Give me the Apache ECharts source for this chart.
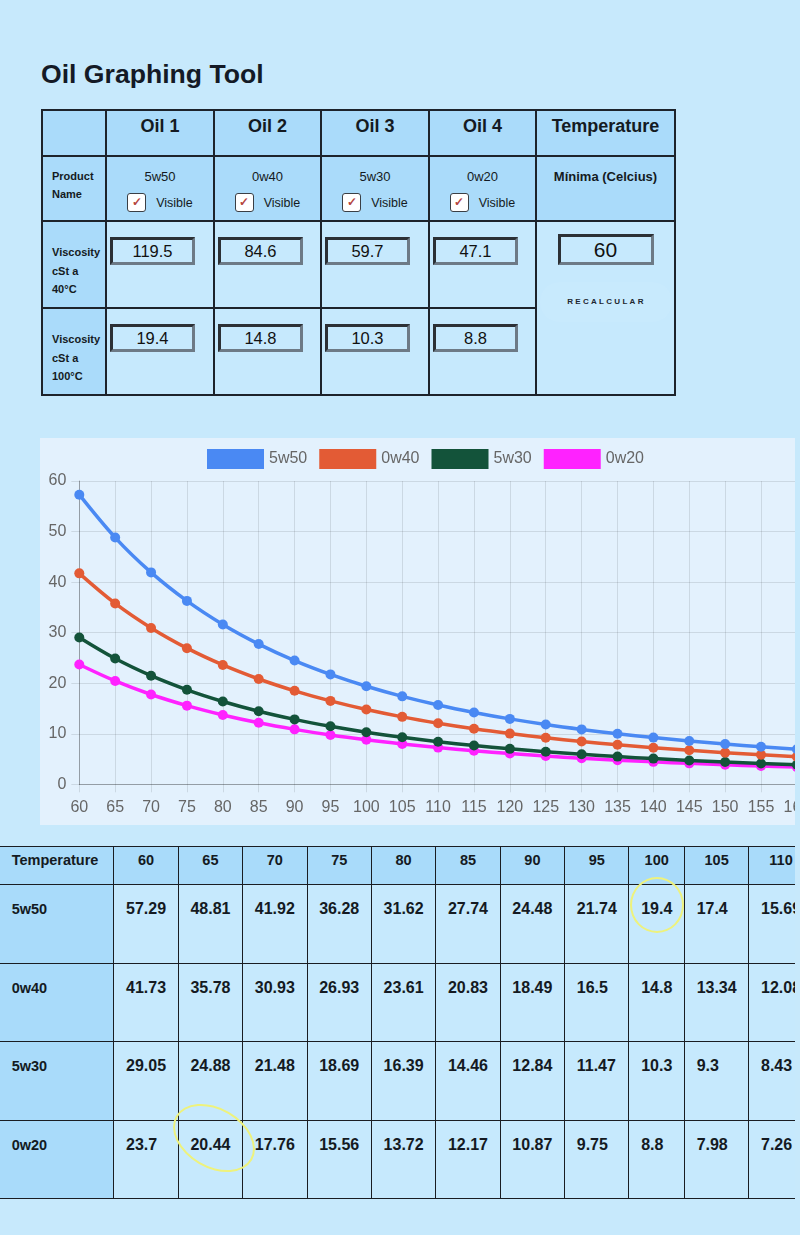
<!DOCTYPE html>
<html><head><meta charset="utf-8">
<script src="https://cdn.jsdelivr.net/npm/echarts@6/dist/echarts.min.js"></script>
<style>
html,body{margin:0;padding:0;background:#c7e9fc;}
body{width:800px;height:1235px;position:relative;overflow:hidden;font-family:"Liberation Sans",Arial,Helvetica,sans-serif;color:#141a22;}
#page{position:absolute;left:0;top:0;width:795px;height:1235px;overflow:hidden;}
h1{position:absolute;left:41px;top:59px;margin:0;font-size:26.6px;line-height:30px;font-weight:bold;color:#141a26;white-space:nowrap;}
#ctl{position:absolute;left:41px;top:109px;border-collapse:collapse;table-layout:fixed;width:633px;}
#ctl th,#ctl td{border:2px solid #1d232b;padding:0;vertical-align:top;text-align:center;background:#c6e9fd;}
#ctl tr.hd th{background:#aadbfa;font-size:18px;line-height:21px;padding-top:5px;font-weight:bold;}
#ctl tr.pn th,#ctl tr.pn td{background:#aadbfa;}
#ctl th.lab{background:#aadbfa;font-size:11px;line-height:18.7px;text-align:left;padding-left:9px;font-weight:bold;}
#ctl tr.pn th.lab{padding-top:9.5px;}
#ctl tr.v th.lab{padding-top:21px;}
#ctl tr.pn td{font-size:13px;line-height:15px;padding-top:11.5px;}
#ctl tr.pn td.mn{font-weight:bold;}
.vis{margin-top:9px;height:20px;line-height:20px;font-size:12.5px;display:flex;justify-content:center;align-items:center;}
.cb{display:inline-block;width:17px;height:17px;border:1px solid #3a3f45;border-radius:3px;background:#fff;color:#b5443c;font-size:12px;font-weight:bold;line-height:17px;text-align:center;margin-right:10px;box-sizing:content-box;}
.inp{margin:15px 0 0 3px;width:79px;height:22px;border:3px solid;border-color:#2c3035 #6d7a86 #6d7a86 #2c3035;font-size:16.5px;line-height:22px;text-align:center;color:#111;background:#c6e9fd;}
.inp.big{margin:12px auto 0 auto;width:90px;height:25px;font-size:21px;line-height:25px;}
.btn{margin:17px auto 0 auto;width:132px;height:40px;border-radius:20px;background:rgba(255,255,255,0.05);font-size:8px;font-weight:bold;letter-spacing:2.3px;line-height:40px;color:#1d2630;text-indent:2px;}
#chartwrap{position:absolute;left:40px;top:438px;width:755px;height:387px;overflow:hidden;background:#e3f1fd;}
#chart{position:absolute;left:0;top:0;width:774px;height:387px;}
#dt{position:absolute;left:-1px;top:846px;border-collapse:collapse;white-space:nowrap;}
#dt th,#dt td{border:1px solid #1a1d22;padding:0 11.68px;vertical-align:top;font-weight:bold;}
#dt thead th{height:32px;font-size:14.5px;line-height:17px;background:#a9dbfa;text-align:center;padding-top:5px;}
#dt thead th:first-child{text-align:left;min-width:90px;}
#dt tbody th{background:#a9dbfa;text-align:left;font-size:14.5px;line-height:18px;height:62.6px;padding-top:15px;}
#dt tbody td{background:#c6e9fd;font-size:16px;line-height:18px;text-align:left;height:62.6px;padding-top:15px;}
.ann{position:absolute;border:2.5px solid #eef27c;border-radius:50%;box-sizing:border-box;}
</style>
</head><body>
<div id="page">
<h1>Oil Graphing Tool</h1>
<table id="ctl">
<colgroup><col style="width:64px"><col style="width:108px"><col style="width:107px"><col style="width:108px"><col style="width:107px"><col style="width:139px"></colgroup>
<tr class="hd" style="height:46px" id="hdrow"></tr>
<tr class="pn" style="height:65px" id="pnrow"></tr>
<tr class="v" style="height:87px" id="v40row"></tr>
<tr class="v" style="height:87px" id="v100row"></tr>
</table>
<div id="chartwrap"><div id="chart"></div></div>
<table id="dt"><thead><tr id="dthead"></tr></thead><tbody id="dtbody"></tbody></table>
<div class="ann" style="left:630px;top:877px;width:54px;height:56px;"></div>
<div class="ann" style="left:170px;top:1108px;width:88px;height:60px;transform:rotate(30deg);"></div>
</div>
<script>
// ---- data ----
const temps = [60,65,70,75,80,85,90,95,100,105,110,115,120,125,130,135,140,145,150,155,160];
const oilNames = ['5w50','0w40','5w30','0w20'];
const oilHeaders = ['Oil 1','Oil 2','Oil 3','Oil 4'];
const visc40 = [119.5, 84.6, 59.7, 47.1];
const visc100 = [19.4, 14.8, 10.3, 8.8];
const minTemp = 60;
const s5w50 = [57.29,48.81,41.92,36.28,31.62,27.74,24.48,21.74,19.4,17.4,15.69,14.22,12.94,11.83,10.86,10.0,9.24,8.57,7.97,7.43,6.95];
const s0w40 = [41.73,35.78,30.93,26.93,23.61,20.83,18.49,16.5,14.8,13.34,12.08,10.98,10.03,9.2,8.46,7.81,7.23,6.72,6.26,5.85,5.47];
const s5w30 = [29.05,24.88,21.48,18.69,16.39,14.46,12.84,11.47,10.3,9.3,8.43,7.67,7.01,6.44,5.93,5.48,5.08,4.72,4.4,4.12,3.86];
const s0w20 = [23.7,20.44,17.76,15.56,13.72,12.17,10.87,9.75,8.8,7.98,7.26,6.63,6.08,5.59,5.16,4.78,4.44,4.14,3.87,3.62,3.4];
const seriesData = [s5w50, s0w40, s5w30, s0w20];

// ---- control table ----
let h = '<th></th>';
oilHeaders.forEach(o => h += '<th>' + o + '</th>');
h += '<th>Temperature</th>';
document.getElementById('hdrow').innerHTML = h;
let p = '<th class="lab">Product<br>Name</th>';
oilNames.forEach(n => p += '<td>' + n + '<div class="vis"><span class="cb">&#10003;</span>Visible</div></td>');
p += '<td class="mn">Mínima (Celcius)</td>';
document.getElementById('pnrow').innerHTML = p;
let a = '<th class="lab">Viscosity<br>cSt a<br>40°C</th>';
visc40.forEach(v => a += '<td><div class="inp">' + v + '</div></td>');
a += '<td rowspan="2"><div class="inp big">' + minTemp + '</div><div class="btn">RECALCULAR</div></td>';
document.getElementById('v40row').innerHTML = a;
let b = '<th class="lab">Viscosity<br>cSt a<br>100°C</th>';
visc100.forEach(v => b += '<td><div class="inp">' + v + '</div></td>');
document.getElementById('v100row').innerHTML = b;

// ---- data table ----
let dh = '<th>Temperature</th>';
temps.forEach(t => dh += '<th>' + t + '</th>');
document.getElementById('dthead').innerHTML = dh;
let body = '';
oilNames.forEach((n, i) => {
  body += '<tr><th>' + n + '</th>';
  seriesData[i].forEach(v => body += '<td>' + v + '</td>');
  body += '</tr>';
});
document.getElementById('dtbody').innerHTML = body;

// ---- chart ----
const F = '"Liberation Sans", Arial, Helvetica, sans-serif';
const colors = ['#4a89f3', '#e35b35', '#13533a', '#ff22ff'];
const chart = echarts.init(document.getElementById('chart'), null, {renderer: 'canvas'});
const gridC = 'rgba(0,0,0,0.1)';
chart.setOption({
  animation: false,
  textStyle: {fontFamily: F},
  legend: {
    top: 11, left: 167, itemWidth: 57, itemHeight: 20, itemGap: 12, padding: 0,
    icon: 'rect', data: oilNames,
    textStyle: {fontSize: 16, color: '#666', fontFamily: F}
  },
  grid: {left: 39.3, top: 43, width: 717.6, height: 303.3, containLabel: false, outerBoundsMode: 'none'},
  xAxis: {
    type: 'category', data: temps.map(String), boundaryGap: false,
    axisLine: {lineStyle: {color: 'rgba(0,0,0,0.28)', width: 1}},
    axisTick: {show: true, length: 8, lineStyle: {color: gridC}},
    axisLabel: {fontSize: 16, color: '#666', margin: 15, interval: 0, fontFamily: F},
    splitLine: {show: true, lineStyle: {color: gridC}}
  },
  yAxis: {
    type: 'value', min: 0, max: 60, interval: 10,
    axisLine: {show: true, lineStyle: {color: 'rgba(0,0,0,0.28)', width: 1}},
    axisTick: {show: true, length: 8, lineStyle: {color: gridC}},
    axisLabel: {fontSize: 16, color: '#666', margin: 13, fontFamily: F},
    splitLine: {show: true, lineStyle: {color: gridC}}
  },
  series: oilNames.map((n, i) => ({
    name: n, type: 'line', data: seriesData[i], smooth: 0.35,
    z: 10 - i,
    symbol: 'circle', symbolSize: 10, showSymbol: true,
    lineStyle: {width: 3.5, color: colors[i]},
    itemStyle: {color: colors[i]}
  }))
});
</script>
</body></html>
